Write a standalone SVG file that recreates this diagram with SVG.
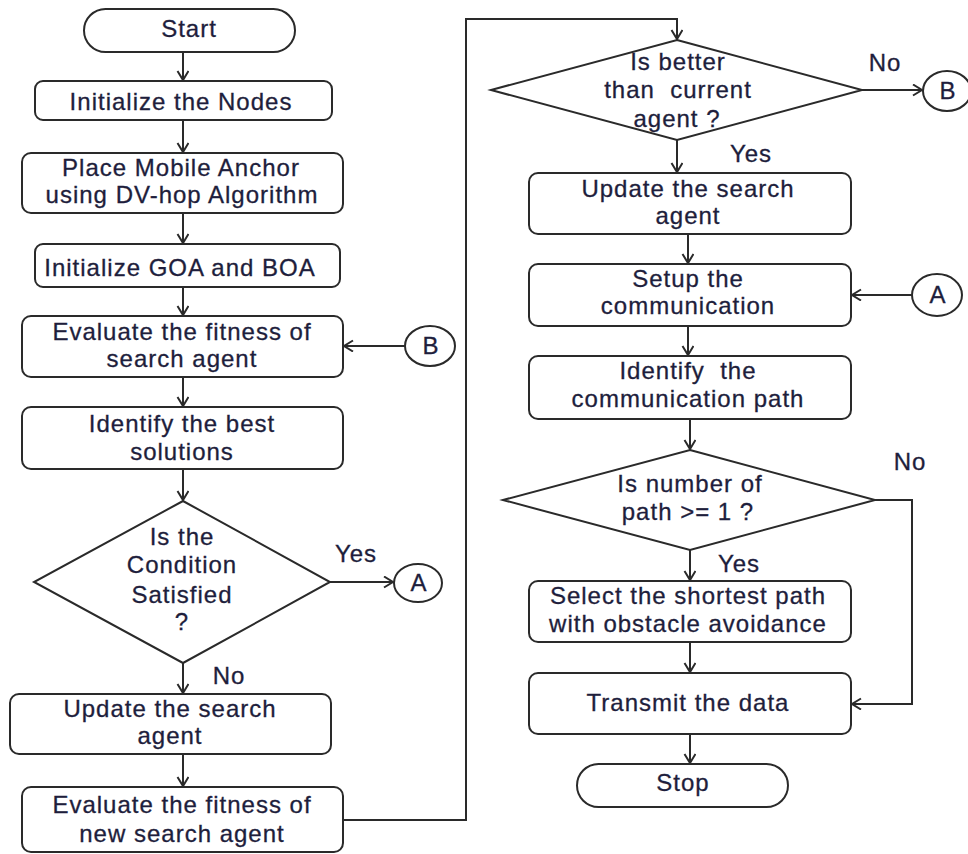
<svg xmlns="http://www.w3.org/2000/svg" width="968" height="854" viewBox="0 0 968 854">
<defs>
<marker id="arr" markerUnits="userSpaceOnUse" markerWidth="14" markerHeight="14" refX="10" refY="6" orient="auto">
<path d="M1,0.5 L10,6 L1,11.5" fill="none" stroke="#2a2a2a" stroke-width="2"/>
</marker>
<style>
.b{fill:#fff;stroke:#2a2a2a;stroke-width:2}
.t{font-family:"Liberation Sans",Arial,sans-serif;font-size:24px;letter-spacing:1px;fill:#1e1e3c;stroke:#1e1e3c;stroke-width:0.3px;text-anchor:middle}
.c{fill:none;stroke:#2a2a2a;stroke-width:2;marker-end:url(#arr)}
</style>
</defs>
<rect width="968" height="854" fill="#fff"/>
<g id="connectors">
<path class="c" d="M183,52 V80"/>
<path class="c" d="M183,120 V152"/>
<path class="c" d="M183,213 V243"/>
<path class="c" d="M183,287 V315"/>
<path class="c" d="M183,377 V406"/>
<path class="c" d="M183,469 V500"/>
<path class="c" d="M330,582 H393"/>
<path class="c" d="M183,663 V693"/>
<path class="c" d="M183,754 V786"/>
<path class="c" d="M343,820 H466 V19 H677 V39"/>
<path class="c" d="M405,346 H344"/>
<path class="c" d="M862,90 H922"/>
<path class="c" d="M677,140 V172"/>
<path class="c" d="M688,234 V263"/>
<path class="c" d="M912,295 H852"/>
<path class="c" d="M688,326 V355"/>
<path class="c" d="M690,419 V449"/>
<path class="c" d="M690,550 V580"/>
<path class="c" d="M875,500 H912 V704 H852"/>
<path class="c" d="M690,642 V672"/>
<path class="c" d="M690,734 V763"/>
</g>
<g id="start"><rect class="b" x="84" y="9" width="211" height="43" rx="21.5"/><text class="t" x="189" y="37">Start</text></g>
<g id="init-nodes"><rect class="b" x="35" y="81" width="297" height="39" rx="8"/><text class="t" x="181" y="110">Initialize the Nodes</text></g>
<g id="place-anchor"><rect class="b" x="22" y="153" width="321" height="60" rx="9"/><text class="t" x="181" y="176">Place Mobile Anchor</text><text class="t" x="182" y="203">using DV-hop Algorithm</text></g>
<g id="init-goa"><rect class="b" x="35" y="244" width="305" height="43" rx="8"/><text class="t" x="180" y="276">Initialize GOA and BOA</text></g>
<g id="evaluate"><rect class="b" x="22" y="316" width="321" height="61" rx="9"/><text class="t" x="182" y="340">Evaluate the fitness of</text><text class="t" x="182" y="367">search agent</text></g>
<g id="identify-best"><rect class="b" x="22" y="407" width="321" height="62" rx="9"/><text class="t" x="182" y="432">Identify the best</text><text class="t" x="182" y="460">solutions</text></g>
<g id="cond"><polygon class="b" points="183,501 330,582 183,663 34,582"/><text class="t" x="182" y="545">Is the</text><text class="t" x="182" y="573">Condition</text><text class="t" x="182" y="603">Satisfied</text><text class="t" x="182" y="630">?</text></g>
<g id="yes1"><text class="t" x="356" y="562">Yes</text></g>
<g id="a1"><ellipse class="b" cx="418" cy="583" rx="24" ry="19"/><text class="t" x="419" y="591">A</text></g>
<g id="b1"><ellipse class="b" cx="430" cy="346" rx="25" ry="20"/><text class="t" x="431" y="354">B</text></g>
<g id="no1"><text class="t" x="229" y="684">No</text></g>
<g id="update-left"><rect class="b" x="10" y="694" width="321" height="60" rx="9"/><text class="t" x="170" y="717">Update the search</text><text class="t" x="170" y="744">agent</text></g>
<g id="evaluate-new"><rect class="b" x="22" y="787" width="321" height="65" rx="9"/><text class="t" x="182" y="813">Evaluate the fitness of</text><text class="t" x="182" y="842">new search agent</text></g>
<g id="better"><polygon class="b" points="677,40 862,90 677,140 491,90"/><text class="t" x="678" y="70">Is better</text><text class="t" x="678" y="98" xml:space="preserve">than  current</text><text class="t" x="677" y="127">agent ?</text></g>
<g id="no2"><text class="t" x="885" y="71">No</text></g>
<g id="b2"><ellipse class="b" cx="947" cy="91" rx="24" ry="20"/><text class="t" x="948" y="99">B</text></g>
<g id="yes2"><text class="t" x="751" y="162">Yes</text></g>
<g id="update-right"><rect class="b" x="529" y="173" width="322" height="61" rx="9"/><text class="t" x="688" y="197">Update the search</text><text class="t" x="688" y="224">agent</text></g>
<g id="setup"><rect class="b" x="529" y="264" width="322" height="62" rx="9"/><text class="t" x="688" y="287">Setup the</text><text class="t" x="688" y="314">communication</text></g>
<g id="a2"><ellipse class="b" cx="937" cy="295" rx="25" ry="21"/><text class="t" x="938" y="303">A</text></g>
<g id="identify-path"><rect class="b" x="529" y="356" width="322" height="63" rx="9"/><text class="t" x="688" y="379" xml:space="preserve">Identify  the</text><text class="t" x="688" y="407">communication path</text></g>
<g id="num-path"><polygon class="b" points="690,450 875,500 690,550 503,500"/><text class="t" x="690" y="492">Is number of</text><text class="t" x="688" y="520">path &gt;= 1 ?</text></g>
<g id="no3"><text class="t" x="910" y="470">No</text></g>
<g id="yes3"><text class="t" x="739" y="572">Yes</text></g>
<g id="select"><rect class="b" x="529" y="581" width="322" height="61" rx="9"/><text class="t" x="688" y="604">Select the shortest path</text><text class="t" x="688" y="632">with obstacle avoidance</text></g>
<g id="transmit"><rect class="b" x="529" y="673" width="322" height="61" rx="9"/><text class="t" x="688" y="711">Transmit the data</text></g>
<g id="stop"><rect class="b" x="577" y="764" width="211" height="43" rx="21.5"/><text class="t" x="683" y="791">Stop</text></g>
</svg>
